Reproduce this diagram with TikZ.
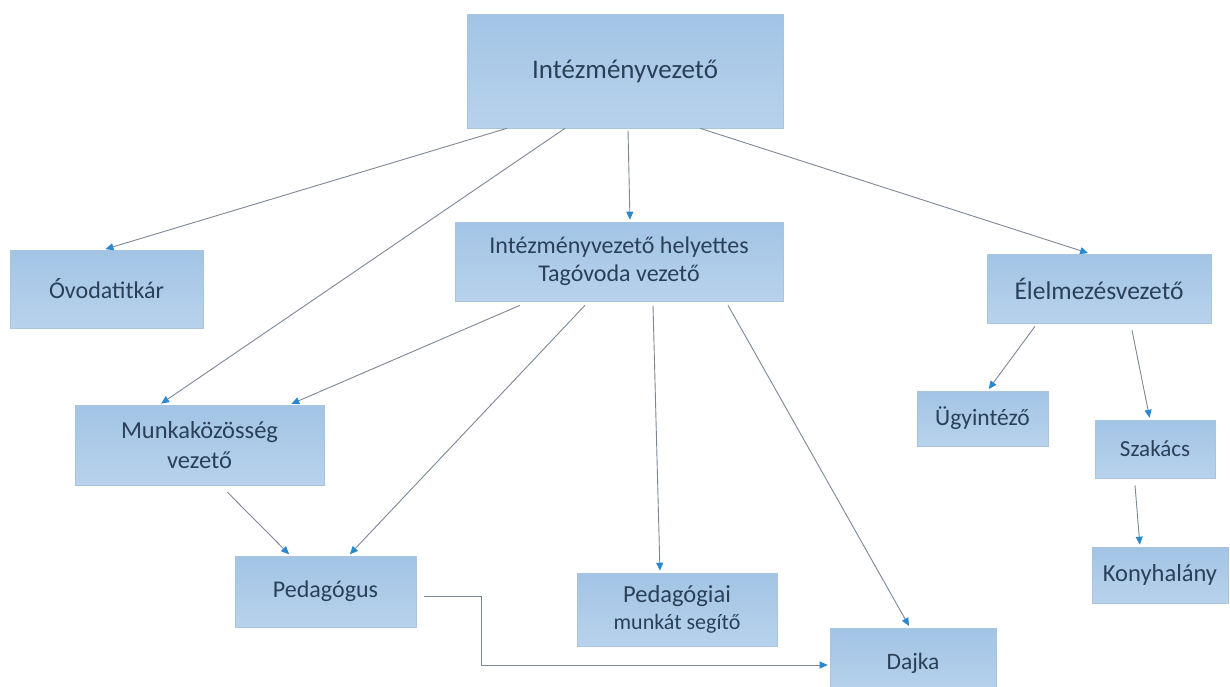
\documentclass[tikz,border=0pt]{standalone}
\usepackage{fontspec}
\setmainfont{Carlito}
\usetikzlibrary{arrows.meta}
\definecolor{boxtop}{HTML}{A2C4E5}
\definecolor{boxbot}{HTML}{B8D2EC}
\definecolor{boxedge}{HTML}{A9C4DE}
\definecolor{txt}{HTML}{2A4058}
\definecolor{linegray}{HTML}{7C8796}
\definecolor{tipblue}{HTML}{2A88CF}
\tikzset{
  orgbox/.style={rectangle, draw=boxedge, line width=0.6pt, top color=boxtop, bottom color=boxbot,
    text=txt, align=center, inner sep=2pt},
  conn/.style={draw=linegray, line width=0.9pt,
    -{Triangle[length=8pt,width=7pt,color=tipblue]}, shorten >=2pt}
}
\begin{document}
\begin{tikzpicture}[x=1pt,y=-1pt]
\useasboundingbox (0,0) rectangle (1230,686);
\clip (0,0) rectangle (1230,686);
\node[orgbox, minimum width=316pt, minimum height=114pt, font=\fontsize{27}{31}\selectfont] (intez) at (625,71) {Intézményvezető};
\node[orgbox, minimum width=193pt, minimum height=78pt, font=\fontsize{24}{28}\selectfont] (ovoda) at (106.5,289) {Óvodatitkár};
\node[orgbox, minimum width=328pt, minimum height=79pt, font=\fontsize{24}{28}\selectfont] (hely) at (619,261.5) {Intézményvezető helyettes\\Tagóvoda vezető};
\node[orgbox, minimum width=224pt, minimum height=69pt, font=\fontsize{25.5}{29}\selectfont] (elelm) at (1099,288.5) {Élelmezésvezető};
\node[orgbox, minimum width=249pt, minimum height=80pt, font=\fontsize{24.5}{30}\selectfont] (munka) at (199.5,445) {Munkaközösség\\vezető};
\node[orgbox, minimum width=131pt, minimum height=55pt, font=\fontsize{23.5}{27}\selectfont] (ugy) at (982.5,418.5) {Ügyintéző};
\node[orgbox, minimum width=120pt, minimum height=58pt, font=\fontsize{23}{27}\selectfont] (szak) at (1155,449) {Szakács};
\node[orgbox, minimum width=181pt, minimum height=71pt, font=\fontsize{24}{28}\selectfont] (ped) at (325.5,591.5) {Pedagógus};
\node[orgbox, minimum width=200pt, minimum height=73pt, font=\fontsize{24.5}{27}\selectfont] (pedm) at (677,609.5) {Pedagógiai\\{\fontsize{22}{27}\selectfont munkát segítő}};
\node[orgbox, minimum width=166pt, minimum height=70pt, font=\fontsize{23.5}{27}\selectfont] (dajka) at (913,663) {Dajka};
\node[orgbox, minimum width=136pt, minimum height=56pt, font=\fontsize{24.5}{28}\selectfont, inner sep=0pt] (konyha) at (1160,575) {Konyhalány};

\draw[conn] ([xshift=-118pt]intez.south) -- ([xshift=-3pt]ovoda.north);
\draw[conn] ([xshift=-60pt]intez.south) -- ([xshift=-40pt]munka.north);
\draw[conn] ([xshift=3pt,yshift=-2pt]intez.south) -- ([xshift=11pt]hely.north);
\draw[conn] ([xshift=75pt]intez.south) -- ([xshift=-9pt]elelm.north);
\draw[conn] ([xshift=-99pt,yshift=-4pt]hely.south) -- ([xshift=90pt]munka.north);
\draw[conn] ([xshift=-34pt,yshift=-4pt]hely.south) -- ([xshift=23pt]ped.north);
\draw[conn] ([xshift=34pt,yshift=-4pt]hely.south) -- ([xshift=-17pt]pedm.north);
\draw[conn] ([xshift=109pt,yshift=-4pt]hely.south) -- ([xshift=-3pt]dajka.north);
\draw[conn] ([xshift=-64pt,yshift=-3pt]elelm.south) -- ([xshift=5pt]ugy.north);
\draw[conn] ([xshift=33pt,yshift=-7pt]elelm.south) -- ([xshift=-5pt]szak.north);
\draw[conn] ([xshift=-20pt,yshift=-7pt]szak.south) -- ([xshift=-20pt]konyha.north);
\draw[conn] ([xshift=28pt,yshift=-7pt]munka.south) -- ([xshift=-35pt]ped.north);
\draw[conn] ([xshift=8pt,yshift=-5pt]ped.east) -- ++(57pt,0) |- ([yshift=-2pt]dajka.west);
\end{tikzpicture}
\end{document}
